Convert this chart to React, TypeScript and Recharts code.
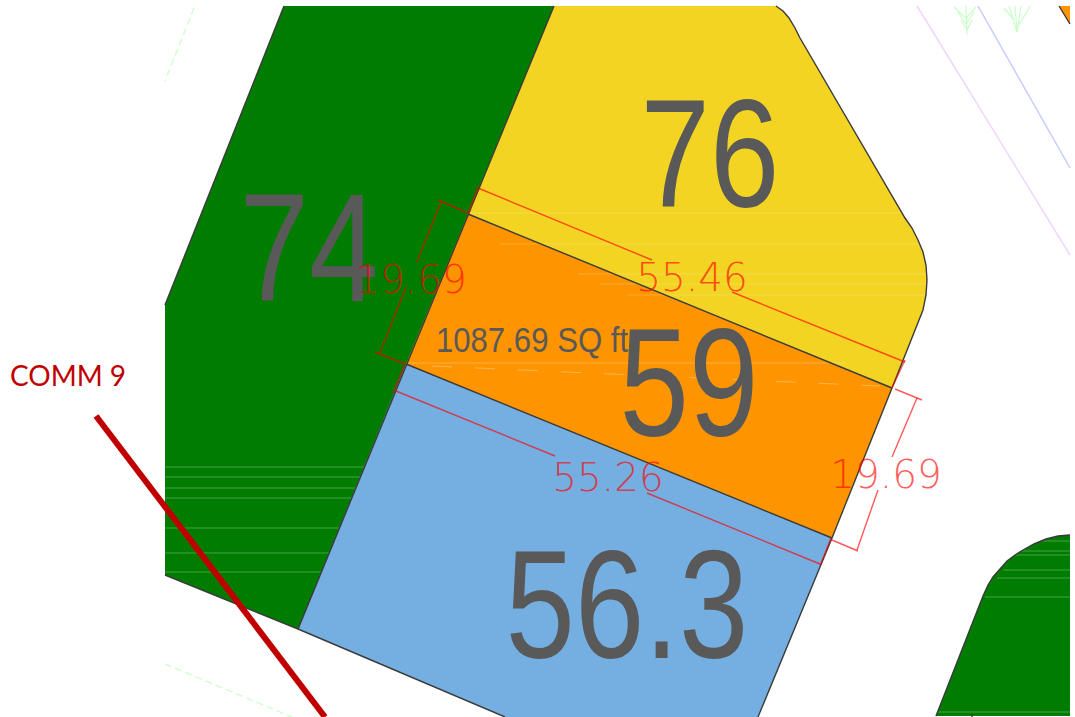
import React from 'react';
import { ScatterChart, Scatter, XAxis, YAxis } from 'recharts';

type Pair = [number, number];

// plot outlines (x, y in picture pixels)
const greenLot: Pair[] = [[284, 6], [554, 6], [298, 629], [165, 575], [165, 305]];
const yellowRim: Pair[] = [[776, 6], [783, 11], [789, 18], [795, 28], [800, 38], [905, 218], [912, 228], [918, 240], [923, 252], [926, 265], [927, 280], [926, 295], [923, 310], [892, 388]];
const yellowLot: Pair[] = [[554, 6], ...yellowRim, [468, 214]];
const orangeLot: Pair[] = [[468, 214], [892, 388], [832, 538], [406, 364]];
const blueLot: Pair[] = [[406, 364], [832, 538], [758, 717], [505, 717], [298, 629]];
const cornerRim: Pair[] = [[936, 716], [983, 596], [988, 585], [993, 577], [1000, 569], [1007, 561], [1015, 555], [1023, 550], [1034, 544], [1046, 539], [1058, 536], [1070, 535]];
const cornerGreen: Pair[] = [...cornerRim, [1070, 716]];
const cornerOrange: Pair[] = [[1059, 6], [1070, 6], [1070, 24]];

const lotEdges: Pair[][] = [
  [[284, 6], [165, 305]],
  [[554, 6], [298, 629], [165, 575]],
  [...yellowRim, [832, 538], [758, 717]],
  [[468, 214], [892, 388]],
  [[406, 364], [832, 538]],
  [[298, 629], [505, 717]],
  cornerRim,
  [[1059, 6], [1070, 24]],
  [[972, 714], [972, 717]],
];

// faint scan lines across the fills
const greenStripes: Pair[][] = [
  [[165, 467], [364, 467]], [[165, 477], [360, 477]], [[165, 488], [356, 488]], [[165, 498], [352, 498]],
  [[165, 528], [339, 528]], [[165, 553], [329, 553]], [[165, 572], [321, 572]],
  [[1040, 541], [1070, 541]], [[1022, 551], [1070, 551]], [[1012, 555], [1070, 555]], [[1003, 570], [1070, 570]],
  [[997, 578], [1070, 578]], [[985, 597], [1070, 597]], [[938, 712], [1070, 712]],
];
const yellowStripes: Pair[][] = [
  [[470, 213], [905, 213]], [[500, 244], [922, 244]], [[578, 274], [927, 274]], [[600, 284], [927, 284]], [[628, 295], [925, 295]],
];
const orangeStripes: Pair[][] = [
  [[406, 363], [845, 363]],
];
const orangeDashes: Pair[][] = [
  [[432, 366], [880, 386]],
];

// dimension lines
const dimensionLines: Pair[][] = [
  [[478, 188], [652, 260]],
  [[732, 292], [905, 362]],
  [[478, 187], [468, 214]],
  [[438, 200], [468, 213]],
  [[441, 202], [417, 262]],
  [[406, 287], [380, 353]],
  [[375, 352], [405, 364]],
  [[405, 364], [393, 393]],
  [[396, 391], [555, 456]],
  [[647, 493], [820, 564]],
  [[831, 538], [820, 566]],
  [[905, 360], [892, 388]],
  [[895, 389], [922, 400]],
  [[917, 398], [892, 457]],
  [[878, 490], [857, 550]],
  [[832, 540], [858, 551]],
];

// background linework from the site plan
const pinkLine: Pair[] = [[917, 6], [1070, 255]];
const blueLine: Pair[] = [[978, 6], [1070, 168]];
const greenDashes: Pair[][] = [
  [[194, 8], [165, 81]],
  [[165, 664], [292, 717]],
];
const trees: Pair[][] = [
  [[966, 6], [967, 35]],
  [[954, 7], [966, 18], [976, 7]],
  [[958, 12], [966, 24], [974, 12]],
  [[961, 20], [967, 30], [972, 20]],
  [[1017, 32], [1009, 6]],
  [[1017, 32], [1015, 6]],
  [[1017, 32], [1021, 6]],
  [[1017, 28], [1028, 10], [1030, 6]],
  [[1014, 20], [1004, 8]],
];
const commLine: Pair[] = [[96, 416], [325, 717]];

// labels: text, x, baseline y
const bigLabels: [string, number, number][] = [['74', 309, 301], ['76', 710, 207], ['59', 689, 436], ['56.3', 627, 658]];
const areaLabels: [string, number, number][] = [['1087.69 SQ ft', 532, 352]];
const dimensionLabels: [string, number, number][] = [['19.69', 411, 293], ['55.46', 692, 291], ['55.26', 608, 491], ['19.69', 886, 488]];
const calloutLabels: [string, number, number][] = [['COMM 9', 68, 386]];

const toPoints = (pairs: Pair[]) => pairs.map(([x, y]) => ({ x, y }));
const noDot = () => <g />;

function Lot(points: Pair[], fill: string, key: string) {
  const drawFill = (props: any) => (
    <path d={'M' + props.points.map((p: any) => p.x + ',' + p.y).join('L') + 'Z'} fill={fill} stroke="none" />
  );
  return <Scatter key={key} data={toPoints(points)} shape={noDot} line={drawFill} isAnimationActive={false} />;
}

function Lines(groups: Pair[][], stroke: string, width: number, name: string, opacity = 1, dash?: string) {
  return groups.map((g, i) => (
    <Scatter
      key={name + i}
      data={toPoints(g)}
      shape={noDot}
      line={{ stroke, strokeWidth: width, strokeOpacity: opacity, strokeDasharray: dash, fill: 'none' }}
      isAnimationActive={false}
    />
  ));
}

function Labels(rows: [string, number, number][], style: any, name: string, squeeze = 1) {
  const data = rows.map(([label, x, y]) => ({ x, y, label }));
  const drawText = (p: any) => (
    <text transform={`translate(${p.cx} ${p.cy}) scale(${squeeze} 1)`} textAnchor="middle" {...style}>{p.payload.label}</text>
  );
  return <Scatter key={name} data={data} shape={drawText} isAnimationActive={false} />;
}

export default function App() {
  return (
    <div style={{ position: 'absolute', left: 0, top: 0, background: 'white' }}>
      <ScatterChart width={1075} height={717} margin={{ top: 0, right: 0, bottom: 0, left: 0 }}>
        <XAxis type="number" dataKey="x" domain={[0, 1075]} hide />
        <YAxis type="number" dataKey="y" domain={[0, 717]} reversed hide />
        {Lines([pinkLine], '#eed6ff', 1.5, 'pink')}
        {Lines([blueLine], '#c6ccff', 1.5, 'blue')}
        {Lines(greenDashes, '#d2ffd2', 1.5, 'gd', 1, '7 4')}
        {Lines(trees, '#c8ffc8', 1.2, 'tree')}
        {Lot(greenLot, '#007c00', 'lot1')}
        {Lot(yellowLot, '#f3d422', 'lot2')}
        {Lot(orangeLot, '#fe9500', 'lot3')}
        {Lot(blueLot, '#75aee0', 'lot4')}
        {Lot(cornerGreen, '#007c00', 'lot5')}
        {Lot(cornerOrange, '#fe9500', 'lot6')}
        {Lines(greenStripes, '#ffffff', 1, 'gs', 0.28)}
        {Lines(yellowStripes, '#ffffff', 1, 'ys', 0.2)}
        {Lines(orangeStripes, '#ffffff', 1, 'os', 0.25)}
        {Lines(orangeDashes, '#ffffff', 1, 'od', 0.3, '20 23')}
        {Lines(lotEdges, '#3a3a3a', 1.4, 'edge')}
        {Labels(bigLabels, { fontFamily: 'Liberation Sans', fontSize: 154, fill: '#595959' }, 'big', 0.81)}
        {Labels(areaLabels, { fontFamily: 'Liberation Sans', fontSize: 35, fill: '#595959' }, 'area', 0.89)}
        {Lines(dimensionLines, '#ff0000', 1.4, 'dim', 0.65)}
        {Labels(dimensionLabels, { fontFamily: 'DejaVu Sans', fontWeight: 200, fontSize: 39, fill: '#ff0000', fillOpacity: 0.65 }, 'dimtext')}
        {Lines([commLine], '#c00000', 6, 'comm')}
        {Labels(calloutLabels, { fontFamily: 'Lato', fontSize: 28, fill: '#c00000' }, 'callout')}
      </ScatterChart>
    </div>
  );
}
